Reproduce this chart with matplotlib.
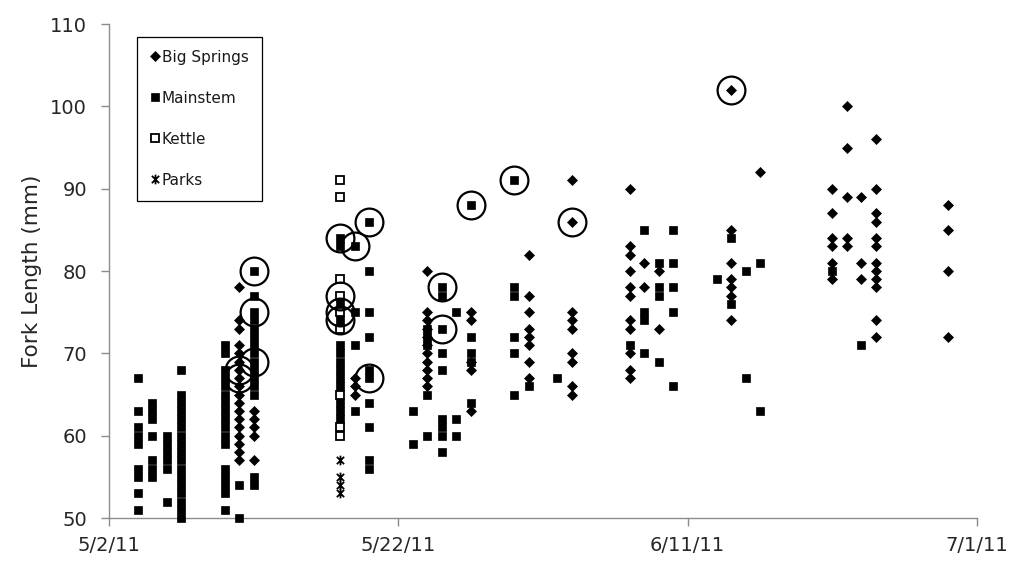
import datetime as dt
import matplotlib
matplotlib.use("Agg")
import matplotlib.pyplot as plt
from matplotlib.path import Path
from matplotlib.lines import Line2D
import matplotlib.dates as mdates

plt.rcParams['font.family'] = ['DejaVu Sans']

# ---- data: fork length (mm) by sampling date (month, day) ----
big_springs = {
    (5, 11): [78, 74, 73, 71, 70, 69, 68, 67, 66, 65, 64, 63, 62, 61, 60, 59, 58, 57],
    (5, 12): [63, 62, 61, 60, 57],
    (5, 19): [67, 66, 65],
    (5, 24): [80, 75, 74, 73, 72, 71, 70, 69, 68, 67, 66],
    (5, 27): [75, 74, 69, 68, 63],
    (5, 31): [82, 77, 75, 73, 72, 71, 69, 67],
    (6, 3): [91, 86, 75, 74, 73, 70, 69, 66, 65],
    (6, 7): [90, 83, 82, 80, 78, 77, 74, 73, 70, 68, 67],
    (6, 8): [81, 78],
    (6, 9): [80, 73],
    (6, 14): [102, 85, 81, 79, 78, 77, 74],
    (6, 16): [92],
    (6, 21): [90, 87, 84, 83, 81, 79],
    (6, 22): [100, 95, 89, 84, 83],
    (6, 23): [89, 81, 79],
    (6, 24): [96, 90, 87, 86, 84, 83, 81, 80, 79, 78, 74, 72],
    (6, 29): [88, 85, 80, 72],
}
mainstem = {
    (5, 4): [67, 63, 61, 60, 59, 56, 55, 53, 51],
    (5, 5): [64, 63, 62, 60, 57, 56, 55],
    (5, 6): [60, 59, 58, 57, 56, 52],
    (5, 7): [68, 65, 64, 63, 62, 61, 60, 59, 58, 57, 56, 55, 54, 53, 52, 51, 50],
    (5, 10): [71, 70, 68, 67, 66, 65, 64, 63, 62, 61, 60, 59, 56, 55, 54, 53, 51],
    (5, 11): [54, 50],
    (5, 12): [80, 77, 75, 74, 73, 72, 71, 70, 69, 68, 67, 66, 65, 55, 54],
    (5, 18): [84, 83, 76, 74, 71, 70, 69, 68, 67, 66, 64, 63, 62],
    (5, 19): [83, 75, 71, 63],
    (5, 20): [86, 80, 75, 72, 68, 67, 64, 61, 57, 56],
    (5, 23): [63, 59],
    (5, 24): [73, 72, 71, 65, 60],
    (5, 25): [78, 77, 73, 70, 68, 62, 61, 60, 58],
    (5, 26): [75, 62, 60],
    (5, 27): [88, 72, 70, 69, 64],
    (5, 30): [91, 78, 77, 72, 70, 65],
    (5, 31): [66],
    (6, 2): [67],
    (6, 7): [71],
    (6, 8): [85, 75, 74, 70],
    (6, 9): [81, 78, 77, 69],
    (6, 10): [85, 81, 78, 75, 66],
    (6, 13): [79],
    (6, 14): [84, 76],
    (6, 15): [80, 67],
    (6, 16): [81, 63],
    (6, 21): [80],
    (6, 23): [71],
}
kettle = {
    (5, 18): [91, 89, 79, 77, 75, 73, 65, 61, 60],
}
parks = {
    (5, 18): [57, 55, 54, 53],
}
circled = {
    (5, 11): [68, 67],
    (5, 12): [80, 75, 69],
    (5, 18): [84, 77, 75, 74],
    (5, 19): [83],
    (5, 20): [86, 67],
    (5, 25): [78, 73],
    (5, 27): [88],
    (5, 30): [91],
    (6, 3): [86],
    (6, 14): [102],
}
x_ticks = [(5, 2), (5, 22), (6, 11), (7, 1)]
y_ticks = [50, 60, 70, 80, 90, 100, 110]
y_label = "Fork Length (mm)"


def flatten(d):
    xs, ys = [], []
    for (m, day), vals in d.items():
        for v in vals:
            xs.append(dt.date(2011, m, day))
            ys.append(v)
    return xs, ys


asterisk = Path([(0, -1), (0, 1), (-0.75, -0.75), (0.75, 0.75), (-0.75, 0.75), (0.75, -0.75)],
                [Path.MOVETO, Path.LINETO, Path.MOVETO, Path.LINETO, Path.MOVETO, Path.LINETO])

fig = plt.figure(figsize=(10.19, 5.69), dpi=100)
ax = fig.add_axes([109 / 1019, 1 - 518 / 569, (977 - 109) / 1019, (518 - 24) / 569])

styles = [
    (big_springs, dict(marker='D', ms=5.4, mfc='black', mec='black', mew=0.5), "Big Springs"),
    (mainstem, dict(marker='s', ms=6.3, mfc='black', mec='black', mew=0.5), "Mainstem"),
    (kettle, dict(marker='s', ms=6.3, mfc='white', mec='black', mew=1.3), "Kettle"),
    (parks, dict(marker=asterisk, ms=7, mfc='none', mec='black', mew=1.3), "Parks"),
]
handles = []
for data, st, lab in styles:
    xs, ys = flatten(data)
    ax.plot(xs, ys, linestyle='none', clip_on=False, zorder=3, **st)
    handles.append(Line2D([], [], linestyle='none', label=lab, **st))

cx, cy = flatten(circled)
ax.plot(cx, cy, linestyle='none', marker='o', ms=20, mfc='none', mec='black', mew=1.6,
        clip_on=False, zorder=4)

ax.set_xlim(dt.date(2011, 5, 2), dt.date(2011, 7, 1))
ax.set_ylim(50, 110)
ax.set_xticks([dt.date(2011, m, d) for m, d in x_ticks])
ax.xaxis.set_major_formatter(plt.FuncFormatter(
    lambda v, p: (lambda d: f"{d.month}/{d.day}/{d.year % 100}")(mdates.num2date(v))))
ax.set_yticks(y_ticks)

for s in ['top', 'right']:
    ax.spines[s].set_visible(False)
for s in ['left', 'bottom']:
    ax.spines[s].set_color('#8c8c8c')
    ax.spines[s].set_linewidth(1.0)
ax.tick_params(axis='both', colors='#8c8c8c', length=5.8, width=1.0, labelsize=14,
               labelcolor='#262626', direction='out')
ax.tick_params(axis='x', pad=7)
ax.tick_params(axis='y', pad=10)
ax.set_ylabel(y_label, fontsize=15.5, color='#262626', labelpad=6)

leg = ax.legend(handles=handles, loc='upper left', bbox_to_anchor=(0.032, 0.974),
                frameon=True, fancybox=False, framealpha=1, edgecolor='black',
                fontsize=11, labelspacing=1.7, handlelength=0.7, handletextpad=0.1,
                borderpad=0.85, borderaxespad=0, numpoints=1)
leg.get_frame().set_linewidth(0.9)
leg.set_zorder(5)
for t in leg.get_texts():
    t.set_color('#1a1a1a')

fig.savefig("out.png", dpi=100)
